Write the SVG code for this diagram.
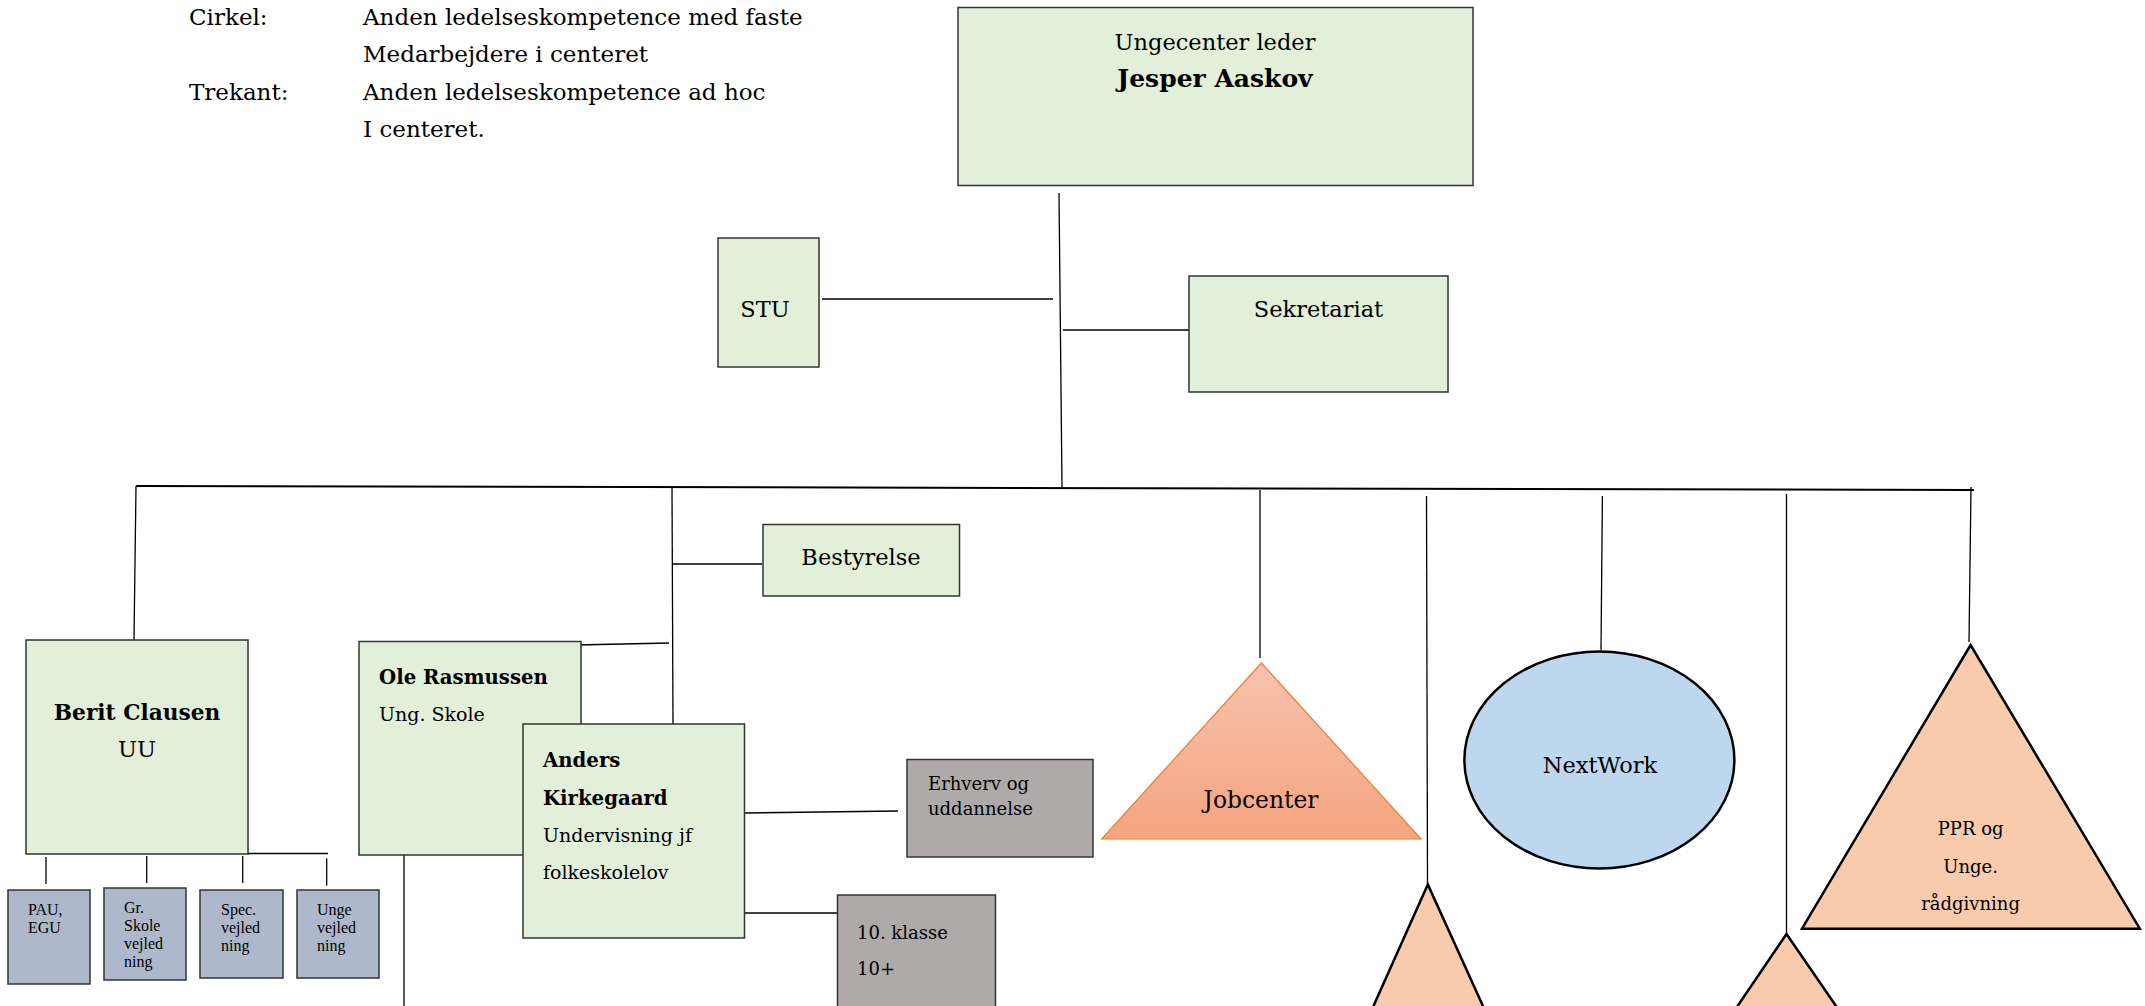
<svg xmlns="http://www.w3.org/2000/svg" width="2145" height="1006" viewBox="0 0 2145 1006">
<style>
.bg{fill:#ffffff}
.g{fill:#e2efd9;stroke:#333333;stroke-width:1.5}
.gr{fill:#aeaaaa;stroke:#333333;stroke-width:1.5}
.bl{fill:#adb9ca;stroke:#333333;stroke-width:1.5}
.pe{fill:#f8cbad;stroke:#000000;stroke-width:2.5}
.nw{fill:#bdd7ee;stroke:#000000;stroke-width:2.5}
.jc{fill:url(#jcg);stroke:#ed7d31;stroke-width:1.2}
.ln{stroke:#000000;stroke-width:1.3;fill:none}
text{font-family:"DejaVu Serif","Liberation Serif",serif;fill:#000000}
.t23{font-size:22.5px}
.lg{font-size:23px}
.t19{font-size:19px}
.t19b{font-size:19.7px;font-weight:bold}
.t18{font-size:18px}
.b{font-weight:bold}
.sm{font-family:"Liberation Serif","DejaVu Serif",serif;font-size:16px}
.c{text-anchor:middle}
</style>
<defs>
<linearGradient id="jcg" x1="0" y1="0" x2="0" y2="1">
<stop offset="0" stop-color="#f7c3ad"/>
<stop offset="1" stop-color="#f4a47f"/>
</linearGradient>
</defs>
<rect class="bg" x="0" y="0" width="2145" height="1006"/>

<g id="legend">
<text class="lg" x="189" y="25">Cirkel:</text>
<text class="lg" x="363" y="25">Anden ledelseskompetence med faste</text>
<text class="lg" x="363" y="62">Medarbejdere i centeret</text>
<text class="lg" x="189" y="100">Trekant:</text>
<text class="lg" x="363" y="100">Anden ledelseskompetence ad hoc</text>
<text class="lg" x="363" y="137">I centeret.</text>
</g>

<g id="connectors">
<line class="ln" x1="1059" y1="193" x2="1062" y2="487"/>
<line class="ln" x1="822" y1="299" x2="1053" y2="299"/>
<line class="ln" x1="1063" y1="330" x2="1189" y2="330"/>
<line class="ln" x1="136" y1="486" x2="1974" y2="490" style="stroke-width:2"/>
<line class="ln" x1="136" y1="486" x2="134" y2="640"/>
<line class="ln" x1="672" y1="487" x2="673" y2="724"/>
<line class="ln" x1="673" y1="564" x2="762" y2="564"/>
<line class="ln" x1="576" y1="645" x2="669" y2="643"/>
<line class="ln" x1="744.5" y1="813" x2="898" y2="811"/>
<line class="ln" x1="744.5" y1="913" x2="837.5" y2="913"/>
<line class="ln" x1="248" y1="853.5" x2="328" y2="853.5"/>
<line class="ln" x1="46" y1="857" x2="46" y2="884"/>
<line class="ln" x1="146.7" y1="856" x2="146.7" y2="883"/>
<line class="ln" x1="242.7" y1="856" x2="242.7" y2="883"/>
<line class="ln" x1="326.7" y1="858.5" x2="326.7" y2="885.5"/>
<line class="ln" x1="404" y1="855" x2="404" y2="1006"/>
<line class="ln" x1="1260" y1="490" x2="1260" y2="658"/>
<line class="ln" x1="1426.5" y1="496" x2="1427.5" y2="884"/>
<line class="ln" x1="1602.4" y1="496" x2="1601" y2="650"/>
<line class="ln" x1="1786.5" y1="494" x2="1786.5" y2="934"/>
<line class="ln" x1="1971" y1="487" x2="1969" y2="642"/>
</g>

<g id="leder">
<rect class="g" x="958" y="7.5" width="515" height="178"/>
<text class="t23 c" x="1215" y="50">Ungecenter leder</text>
<text class="c b" style="font-size:25px" x="1215" y="87">Jesper Aaskov</text>
</g>

<g id="stu">
<rect class="g" x="718" y="238" width="101" height="129"/>
<text class="t23 c" x="765" y="317">STU</text>
</g>

<g id="sekretariat">
<rect class="g" x="1189" y="276" width="259" height="116"/>
<text class="t23 c" x="1318.5" y="317">Sekretariat</text>
</g>

<g id="bestyrelse">
<rect class="g" x="763" y="524.5" width="196.5" height="71.5"/>
<text class="t23 c" x="861" y="565">Bestyrelse</text>
</g>

<g id="berit">
<rect class="g" x="26" y="640" width="222" height="214"/>
<text class="c b" style="font-size:21.7px" x="137" y="720">Berit Clausen</text>
<text class="t23 c" x="137" y="757">UU</text>
</g>

<g id="pau">
<rect class="bl" x="8" y="890" width="82" height="94"/>
<text class="sm" x="28" y="915">PAU,</text>
<text class="sm" x="28" y="933">EGU</text>
</g>

<g id="grskole">
<rect class="bl" x="104" y="888" width="82" height="92"/>
<text class="sm" x="124" y="913">Gr.</text>
<text class="sm" x="124" y="931">Skole</text>
<text class="sm" x="124" y="949">vejled</text>
<text class="sm" x="124" y="967">ning</text>
</g>

<g id="spec">
<rect class="bl" x="200" y="890" width="83" height="88"/>
<text class="sm" x="221" y="915">Spec.</text>
<text class="sm" x="221" y="933">vejled</text>
<text class="sm" x="221" y="951">ning</text>
</g>

<g id="unge">
<rect class="bl" x="297" y="890" width="82" height="88"/>
<text class="sm" x="317" y="915">Unge</text>
<text class="sm" x="317" y="933">vejled</text>
<text class="sm" x="317" y="951">ning</text>
</g>

<g id="ole">
<rect class="g" x="359" y="641.5" width="222" height="213.5"/>
<text class="t19b" x="379" y="684">Ole Rasmussen</text>
<text class="t19" x="379" y="721">Ung. Skole</text>
</g>

<g id="anders">
<rect class="g" x="523" y="724" width="221.5" height="214"/>
<text class="t19b" x="543" y="767">Anders</text>
<text class="t19b" x="543" y="805">Kirkegaard</text>
<text class="t19" x="543" y="842">Undervisning jf</text>
<text class="t19" x="543" y="879">folkeskolelov</text>
</g>

<g id="erhverv">
<rect class="gr" x="907" y="759.5" width="186" height="97.5"/>
<text class="t18" x="928" y="790">Erhverv og</text>
<text class="t18" x="928" y="815">uddannelse</text>
</g>

<g id="klasse10">
<rect class="gr" x="837.5" y="895" width="158" height="130"/>
<text class="t18" x="857" y="939">10. klasse</text>
<text class="t18" x="857" y="975">10+</text>
</g>

<g id="jobcenter">
<polygon class="jc" points="1261.4,663 1101.7,839 1421,839"/>
<text class="c" style="font-size:23.4px" x="1261" y="807.5">Jobcenter</text>
</g>

<g id="nextwork">
<ellipse class="nw" cx="1599.4" cy="760" rx="135" ry="108.5"/>
<text class="t23 c" x="1600" y="773">NextWork</text>
</g>

<g id="trekant1">
<polygon class="pe" points="1427.8,884.4 1365,1025 1491.6,1025"/>
</g>

<g id="trekant2">
<polygon class="pe" points="1786.5,934 1724.7,1025 1849.1,1025"/>
</g>

<g id="ppr">
<polygon class="pe" points="1970.6,645 1802,928.7 2139.8,928.7"/>
<text class="t18 c" x="1970.6" y="835">PPR og</text>
<text class="t18 c" x="1970.6" y="873">Unge.</text>
<text class="t18 c" x="1970.6" y="910">rådgivning</text>
</g>
</svg>
